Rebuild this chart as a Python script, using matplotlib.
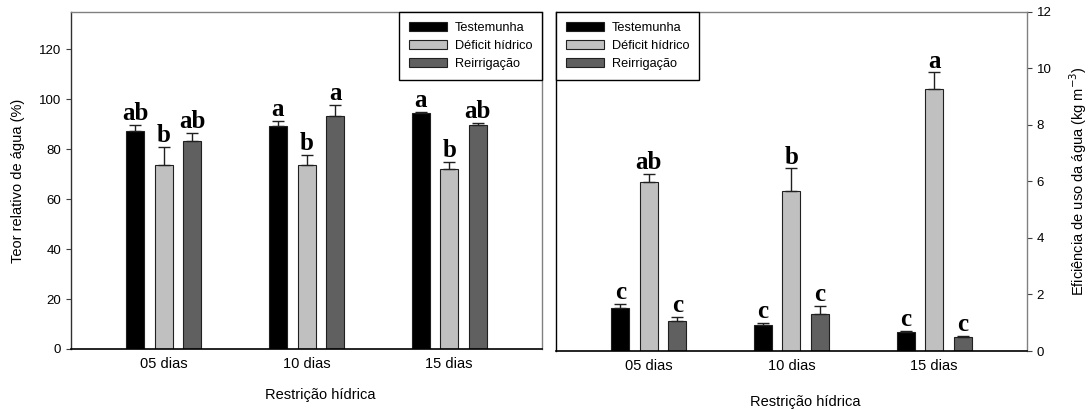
import matplotlib
matplotlib.use("Agg")
import matplotlib.pyplot as plt
import numpy as np

plt.rcParams.update({
    "font.family": ["Liberation Sans", "DejaVu Sans"],
})

days = ["05 dias", "10 dias", "15 dias"]
series = ["Testemunha", "Déficit hídrico", "Reirrigação"]

# Teor relativo de água (%)
tra_test = [87.3, 89.3, 94.4]
tra_def = [73.7, 73.6, 72.0]
tra_reir = [83.2, 93.3, 89.6]
tra_test_err = [2.4, 1.9, 0.5]
tra_def_err = [7.3, 4.3, 2.8]
tra_reir_err = [3.2, 4.4, 0.8]
tra_letters = [["ab", "a", "a"], ["b", "b", "b"], ["ab", "a", "ab"]]

# Eficiência de uso da água (kg m-3)
eua_test = [1.51, 0.92, 0.66]
eua_def = [5.99, 5.67, 9.28]
eua_reir = [1.07, 1.31, 0.50]
eua_test_err = [0.15, 0.07, 0.04]
eua_def_err = [0.28, 0.79, 0.58]
eua_reir_err = [0.14, 0.28, 0.03]
eua_letters = [["c", "c", "c"], ["ab", "b", "a"], ["c", "c", "c"]]

colors = ["#000000", "#c0c0c0", "#606060"]
_GRAY = "#808080"


def panel(ax, means, errs, letters, ylim, yticks, legend_loc):
    x = np.arange(len(days))
    w, off = 0.126, 0.2
    for i, (m, e) in enumerate(zip(means, errs)):
        xi = x + (i - 1) * off
        ax.bar(xi, m, w, color=colors[i], edgecolor="#202020", linewidth=0.8,
               label=series[i], zorder=2)
        ax.errorbar(xi, m, yerr=[np.zeros(len(e)), e], fmt="none", ecolor="#202020",
                    elinewidth=1.0, capsize=4.5, capthick=1.0, zorder=3)
        for xx, mm, ee, lab in zip(xi, m, e, letters[i]):
            ax.annotate(lab, (xx, mm + ee), xytext=(0, 3.5), textcoords="offset points",
                        ha="center", va="baseline", fontsize=18, fontweight="bold",
                        family="Liberation Serif")
    ax.set_xlim(-0.65, 2.65)
    ax.set_ylim(*ylim)
    ax.set_yticks(yticks)
    ax.set_xticks(x)
    ax.set_xticklabels(days, fontsize=10.5)
    ax.tick_params(axis="x", length=0, pad=6)
    ax.tick_params(axis="y", labelsize=9.5, length=3.5, width=0.8, color="#404040")
    for s in ["top", "right", "left"]:
        ax.spines[s].set_color(_GRAY)
        ax.spines[s].set_linewidth(1.0)
    ax.spines["bottom"].set_color("#000000")
    ax.spines["bottom"].set_linewidth(1.2)
    leg = ax.legend(loc=legend_loc, fontsize=9.2, frameon=True, fancybox=False,
                    edgecolor="#000000", framealpha=1, borderaxespad=0,
                    handlelength=3.0, handleheight=0.8, handletextpad=0.6,
                    labelspacing=0.45, borderpad=0.75)
    leg.get_frame().set_linewidth(1.0)
    ax.set_xlabel("Restrição hídrica", fontsize=10.5)


fig = plt.figure(figsize=(10.91, 4.09), dpi=100)
ax1 = fig.add_axes([0.0651, 0.1467, 0.4317, 0.824])
ax2 = fig.add_axes([0.5096, 0.1418, 0.4317, 0.829])

panel(ax1, [tra_test, tra_def, tra_reir], [tra_test_err, tra_def_err, tra_reir_err],
      tra_letters, (0, 135), range(0, 121, 20), "upper right")
ax1.spines["left"].set_color("#303030")
ax1.set_ylabel("Teor relativo de água (%)", fontsize=10.5)
ax1.yaxis.set_label_coords(-0.098, 0.5)
ax1.xaxis.set_label_coords(0.53, -0.115)

panel(ax2, [eua_test, eua_def, eua_reir], [eua_test_err, eua_def_err, eua_reir_err],
      eua_letters, (0, 12), range(0, 13, 2), "upper left")
ax2.spines["left"].set_color("#000000")
ax2.yaxis.tick_right()
ax2.yaxis.set_label_position("right")
ax2.set_ylabel("Eficiência de uso da água (kg m$^{-3}$)", fontsize=10.5, rotation=90)
ax2.yaxis.set_label_coords(1.085, 0.5)
ax2.xaxis.set_label_coords(0.53, -0.13)

fig.savefig("out.png", dpi=100)
